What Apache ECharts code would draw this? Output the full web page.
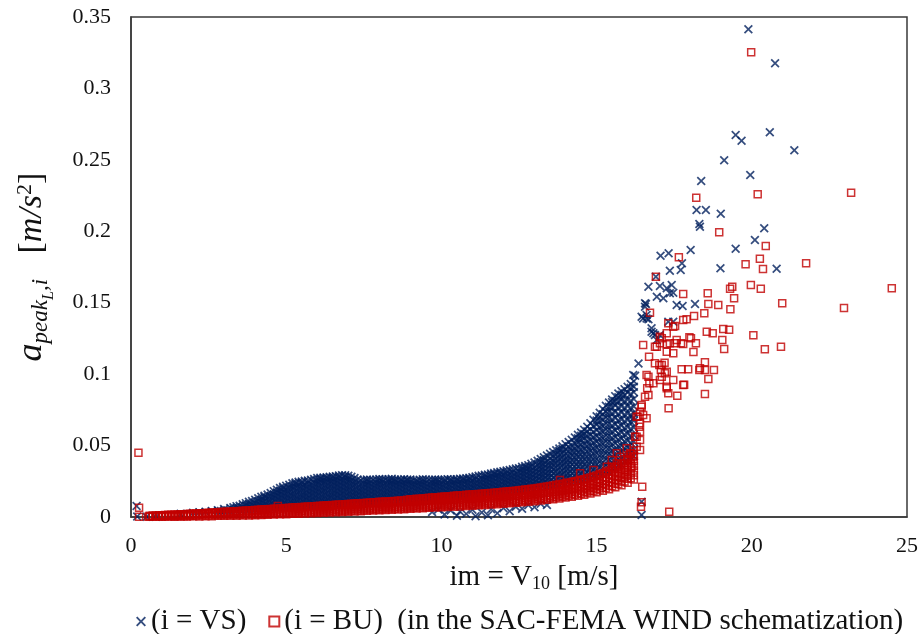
<!DOCTYPE html>
<html><head><meta charset="utf-8">
<script src="https://cdn.jsdelivr.net/npm/echarts@6/dist/echarts.min.js"></script>
<style>html,body{margin:0;padding:0;background:#fff}#c{width:919px;height:634px}</style>
</head><body><div id="c"></div>
<script>
// ---- data ----
const seriesNames = ['(i = VS)', '(i = BU)  (in the SAC-FEMA WIND schematization)'];
const xRange = [0, 25];
const yRange = [0, 0.35];
const xStep = 5;
const yStep = 0.05;

// dense VS cloud: each row = [x, y1, y2, ...]
const vsBandCols = [
[1.6,0.0022],[2.0,0.0029],[2.2,0.0033],[2.4,0.0037],[2.6,0.0042],
[2.8,0.0034,0.0048],[3.0,0.0037,0.0056],[3.2,0.0039,0.0063],
[3.4,0.0042,0.0061,0.0076],[3.6,0.0044,0.0067,0.0089],
[3.8,0.0046,0.0071,0.0091,0.0106],[4.0,0.0048,0.0073,0.0097,0.0121],
[4.2,0.0051,0.0075,0.0101,0.0123,0.0141],[4.4,0.0053,0.0079,0.0103,0.0131,0.0158],
[4.6,0.0056,0.0081,0.0108,0.0135,0.0157,0.0181],
[4.8,0.0058,0.0085,0.0111,0.0136,0.0163,0.0184,0.0203],
[5.0,0.0061,0.0086,0.0113,0.0139,0.0164,0.0191,0.0218],
[5.2,0.0064,0.0091,0.0116,0.0143,0.0167,0.0195,0.0215,0.0236],
[5.4,0.0066,0.0092,0.0119,0.0144,0.0171,0.0197,0.0223,0.0246],
[5.6,0.0069,0.0095,0.0121,0.0147,0.0172,0.0199,0.0225,0.0253],
[5.8,0.0071,0.0098,0.0123,0.015,0.0176,0.0201,0.0228,0.0261],
[6.0,0.0074,0.0101,0.0126,0.0153,0.0178,0.0205,0.023,0.0253,0.0273],
[6.2,0.0077,0.0103,0.013,0.0155,0.0182,0.0207,0.0234,0.0257,0.0276],
[6.4,0.008,0.0106,0.0133,0.0158,0.0185,0.0211,0.0236,0.0261,0.0281],
[6.6,0.0083,0.0109,0.0134,0.0161,0.0186,0.0213,0.0238,0.0264,0.0286],
[6.8,0.0086,0.0112,0.0137,0.0164,0.0189,0.0215,0.0242,0.0267,0.0293],
[7.0,0.0089,0.0114,0.0141,0.0166,0.0193,0.0218,0.0245,0.0268,0.0289],
[7.2,0.0092,0.0118,0.0143,0.017,0.0195,0.0222,0.0247,0.0273],
[7.4,0.0095,0.0121,0.0147,0.0173,0.0198,0.0225,0.0256],
[7.6,0.0098,0.0123,0.0149,0.0175,0.0201,0.0227,0.0249,0.0263],
[7.8,0.0101,0.0126,0.0152,0.0178,0.0204,0.023,0.0259],
[8.0,0.0104,0.0129,0.0155,0.0181,0.0206,0.0233,0.0251,0.0266],
[8.2,0.0106,0.0132,0.0157,0.0183,0.0209,0.0235,0.0262],
[8.4,0.0109,0.0134,0.016,0.0186,0.0211,0.0237,0.0254,0.0267],
[8.6,0.0111,0.0137,0.0162,0.0188,0.0214,0.0239,0.026],
[8.8,0.0114,0.0139,0.0165,0.0191,0.0217,0.0241,0.0264],
[9.0,0.0119,0.0145,0.017,0.0195,0.0221,0.0243,0.0262],
[9.2,0.0123,0.0147,0.0173,0.0198,0.0222,0.0245,0.0258],
[9.4,0.0126,0.0151,0.0176,0.0201,0.0226,0.0247,0.0264],
[9.6,0.0129,0.0154,0.0179,0.0204,0.0229,0.0259],
[9.8,0.0133,0.0157,0.0182,0.0208,0.0232,0.0249,0.0262],
[10.0,0.0136,0.0161,0.0186,0.021,0.0235,0.026],
[10.2,0.014,0.0164,0.0189,0.0214,0.0239,0.0265],
[10.4,0.0143,0.0168,0.0193,0.0218,0.0242,0.0262],
[10.6,0.0147,0.0171,0.0196,0.0221,0.0246,0.0267],
[10.8,0.015,0.0175,0.02,0.0225,0.025,0.0271],
[11.0,0.0153,0.0178,0.0203,0.0228,0.0254,0.0279],
[11.2,0.0157,0.0181,0.0206,0.0231,0.0257,0.0288],
[11.4,0.016,0.0185,0.021,0.0235,0.026,0.0281,0.0295],
[11.6,0.0164,0.0188,0.0213,0.0238,0.0263,0.0287,0.0304],
[11.8,0.0168,0.0192,0.0217,0.0242,0.0267,0.0292,0.0313],
[12.0,0.0172,0.0196,0.0221,0.0246,0.0271,0.0296,0.0321],
[12.2,0.0176,0.02,0.0225,0.025,0.0275,0.03,0.0329],
[12.4,0.018,0.0204,0.0229,0.0254,0.0279,0.0305,0.0339],
[12.6,0.0185,0.0209,0.0234,0.0259,0.0284,0.031,0.0334,0.0351],
[12.8,0.019,0.0214,0.0239,0.0264,0.0289,0.0315,0.0339,0.0363],
[13.0,0.0196,0.022,0.0245,0.027,0.0296,0.0321,0.0346,0.0382],
[13.2,0.0202,0.0228,0.0253,0.028,0.0305,0.0332,0.0357,0.0384,0.0406],
[13.4,0.0209,0.0235,0.026,0.0287,0.0312,0.0339,0.0365,0.0391,0.0431],
[13.6,0.0216,0.0246,0.0274,0.0306,0.0334,0.0366,0.0394,0.0426,0.0455],
[13.8,0.0224,0.0253,0.0284,0.0312,0.0344,0.0372,0.0404,0.0432,0.0463,0.048],
[14.0,0.0232,0.0262,0.029,0.0322,0.035,0.0382,0.041,0.0442,0.0474,0.051],
[14.2,0.0241,0.0271,0.0305,0.0335,0.0369,0.0399,0.0433,0.0463,0.0497,0.054],
[14.4,0.0251,0.0285,0.0317,0.0353,0.0385,0.0421,0.0453,0.0489,0.0521,0.0551,0.0575],
[14.6,0.0261,0.0295,0.0333,0.0367,0.0405,0.0439,0.0477,0.0511,0.0549,0.0581,0.061],
[14.8,0.0273,0.0311,0.0347,0.0387,0.0423,0.0463,0.0499,0.0539,0.0575,0.0615,0.0656],
[15.0,0.0287,0.0325,0.0367,0.0405,0.0447,0.0485,0.0527,0.0565,0.0607,0.0645,0.0676,0.0705],
[15.2,0.0301,0.0343,0.0383,0.0427,0.0467,0.0511,0.0551,0.0595,0.0635,0.0679,0.0719,0.0756],
[15.4,0.0319,0.0361,0.0401,0.0445,0.0485,0.0529,0.0569,0.0613,0.0653,0.0697,0.0737,0.0771,0.0801],
[15.6,0.0341,0.0383,0.0429,0.0471,0.0517,0.0559,0.0605,0.0647,0.0693,0.0735,0.0781,0.0812,0.0846],
[15.8,0.0363,0.0407,0.0455,0.0499,0.0547,0.0591,0.0639,0.0683,0.0731,0.0775,0.0823,0.0856,0.0881],
[16.0,0.0391,0.0437,0.0487,0.0533,0.0583,0.0629,0.0679,0.0725,0.0775,0.0821,0.0871,0.0911],
[16.2,0.0426,0.0474,0.0526,0.0574,0.0626,0.0674,0.0726,0.0774,0.0826,0.0874,0.0912,0.0951]
];
// more VS cloud points between the columns above
const vsBandCols2 = [
[2.9,0.0042],[3.1,0.0047],[3.3,0.0052,0.0068],[3.5,0.0055,0.0079],[3.7,0.0057,0.0081,0.0097],
[3.9,0.006,0.0084,0.0112],[4.1,0.0062,0.0086,0.0111,0.0131],[4.3,0.0064,0.009,0.0114,0.0139,0.0149],
[4.5,0.0067,0.0093,0.0119,0.0145,0.0168],[4.7,0.007,0.0096,0.0122,0.0148,0.0172,0.0191],
[4.9,0.0073,0.0098,0.0125,0.0151,0.0177,0.0201,0.0211],
[5.1,0.0075,0.0101,0.0128,0.0153,0.0179,0.0205,0.0226],
[5.3,0.0078,0.0104,0.013,0.0156,0.0183,0.0208,0.0232,0.0241],
[5.5,0.008,0.0106,0.0133,0.0158,0.0185,0.021,0.0236,0.0249],
[5.7,0.0083,0.0109,0.0135,0.0161,0.0188,0.0213,0.0239,0.0256],
[5.9,0.0086,0.0112,0.0138,0.0164,0.019,0.0216,0.0242,0.0266],
[6.1,0.0089,0.0115,0.0141,0.0167,0.0193,0.0219,0.0245,0.0264,0.0274],
[6.3,0.0091,0.0117,0.0144,0.0169,0.0196,0.0221,0.0247,0.0268,0.0278],
[6.5,0.0094,0.012,0.0146,0.0172,0.0198,0.0224,0.025,0.0271,0.0283],
[6.7,0.0097,0.0123,0.0148,0.0175,0.0201,0.0226,0.0252,0.0276,0.029],
[6.9,0.01,0.0126,0.0151,0.0178,0.0204,0.0229,0.0255,0.0279,0.0292],
[7.1,0.0103,0.0129,0.0154,0.018,0.0206,0.0232,0.0257,0.0281],
[7.3,0.0106,0.0132,0.0158,0.0184,0.0209,0.0236,0.0262],
[7.5,0.0109,0.0135,0.016,0.0186,0.0212,0.0238,0.0259],
[7.7,0.0111,0.0137,0.0163,0.0189,0.0215,0.0239,0.0261],
[7.9,0.0114,0.014,0.0166,0.0192,0.0218,0.0242,0.0263],
[8.1,0.0117,0.0143,0.0169,0.0195,0.0221,0.0247,0.0264],
[8.3,0.012,0.0145,0.0171,0.0197,0.0223,0.0249,0.0265],
[8.5,0.0122,0.0148,0.0174,0.0199,0.0225,0.0248,0.0263],
[8.7,0.0125,0.015,0.0176,0.0201,0.0227,0.0251,0.0262],
[8.9,0.0128,0.0154,0.0179,0.0205,0.0231,0.0254,0.0263],
[9.1,0.0132,0.0158,0.0183,0.0209,0.0233,0.0255],
[9.3,0.0135,0.016,0.0186,0.0211,0.0236,0.0261],
[9.5,0.0138,0.0163,0.0189,0.0214,0.0239,0.0262],
[9.7,0.0141,0.0166,0.0192,0.0217,0.0241,0.026],
[9.9,0.0144,0.017,0.0195,0.022,0.0244,0.0261],
[10.1,0.0148,0.0173,0.0198,0.0223,0.0248,0.0263],
[10.3,0.0151,0.0176,0.0201,0.0226,0.025,0.0264],
[10.5,0.0155,0.018,0.0205,0.023,0.0254,0.0265],
[10.7,0.0158,0.0183,0.0208,0.0233,0.0257,0.0269],
[10.9,0.0162,0.0187,0.0212,0.0237,0.0262,0.0275],
[11.1,0.0165,0.019,0.0215,0.024,0.0266,0.0284],
[11.3,0.0169,0.0194,0.0219,0.0244,0.027,0.0291],
[11.5,0.0172,0.0197,0.0222,0.0247,0.0273,0.0298],
[11.7,0.0176,0.0201,0.0226,0.0251,0.0276,0.03,0.0308],
[11.9,0.018,0.0205,0.023,0.0255,0.028,0.0305,0.0317],
[12.1,0.0184,0.0209,0.0234,0.0259,0.0284,0.0309,0.0325],
[12.3,0.0188,0.0213,0.0238,0.0263,0.0288,0.0313,0.0334],
[12.5,0.0192,0.0217,0.0242,0.0267,0.0292,0.0318,0.0342],
[12.7,0.0197,0.0222,0.0247,0.0272,0.0297,0.0322,0.0346,0.0357],
[12.9,0.0203,0.0228,0.0253,0.0278,0.0303,0.0328,0.0353,0.0372],
[13.1,0.0209,0.0235,0.0261,0.0287,0.0313,0.0339,0.0365,0.0394],
[13.3,0.0215,0.0241,0.0267,0.0293,0.0319,0.0345,0.0371,0.0397,0.0418],
[13.5,0.0222,0.025,0.0276,0.0304,0.033,0.0358,0.0384,0.0412,0.0443],
[13.7,0.023,0.026,0.029,0.032,0.035,0.038,0.041,0.044,0.0467],
[13.9,0.0238,0.0268,0.0299,0.0328,0.036,0.0388,0.0419,0.0448,0.0478,0.0495],
[14.1,0.0246,0.0277,0.0306,0.0337,0.0367,0.0397,0.0427,0.0458,0.0491,0.0525],
[14.3,0.0256,0.0288,0.0321,0.0352,0.0386,0.0418,0.0451,0.0482,0.0515,0.0557],
[14.5,0.0266,0.0302,0.0335,0.037,0.0404,0.0439,0.0473,0.0507,0.054,0.0569,0.0592],
[14.7,0.0278,0.0314,0.0351,0.0387,0.0424,0.046,0.0497,0.0533,0.0568,0.06,0.0632],
[14.9,0.0291,0.033,0.0368,0.0406,0.0445,0.0483,0.0521,0.056,0.0597,0.0636,0.068],
[15.1,0.0305,0.0346,0.0386,0.0428,0.0468,0.051,0.055,0.0592,0.0632,0.0671,0.0702,0.073],
[15.3,0.0321,0.0363,0.0405,0.0447,0.0489,0.0531,0.0573,0.0615,0.0657,0.0699,0.0739,0.0778],
[15.5,0.034,0.0383,0.0426,0.0469,0.0512,0.0555,0.0598,0.0641,0.0684,0.0726,0.0766,0.0804,0.0823],
[15.7,0.0362,0.0407,0.0452,0.0497,0.0542,0.0587,0.0632,0.0677,0.0722,0.0767,0.0808,0.0838,0.0864],
[15.9,0.0389,0.0436,0.0483,0.053,0.0577,0.0624,0.0671,0.0718,0.0765,0.0812,0.0856,0.0895],
[16.1,0.0422,0.0471,0.052,0.0569,0.0618,0.0667,0.0716,0.0765,0.0814,0.0861,0.0905,0.0931]
];

// VS points lying below the BU band
const vsLowPts = [
[0.18,0.0077],[0.2,0.0004],[0.5,0.0002],[0.8,0.0001],
[9.7,0.0035],[9.9,0.0052],[10.1,0.0018],[10.3,0.0046],[10.5,0.0009],[10.6,0.0038],
[10.8,0.0022],[11.0,0.0051],[11.1,0.0006],[11.3,0.0031],[11.5,0.0012],[11.6,0.0055],
[11.8,0.0027],[12.0,0.0062],[12.2,0.0041],[12.4,0.0072],[12.6,0.0058],[12.8,0.0083],
[13.0,0.0069],[13.2,0.0092],[13.4,0.0084],[16.45,0.0107],[16.45,0.0014]
];

// scattered VS points above the cloud
const vsSparse = [
[16.18,0.0691],[16.24,0.0989],[16.18,0.0994],[16.35,0.1075],[16.45,0.1402],[16.5,0.139],
[16.61,0.139],[16.56,0.1472],[16.56,0.1496],[16.59,0.1491],[16.61,0.1414],[16.67,0.1384],
[16.77,0.1321],[16.83,0.1286],[16.77,0.1297],[16.88,0.1274],[17.04,0.1274],[16.94,0.1239],
[17.31,0.1367],[17.47,0.1367],[16.94,0.1542],[17.15,0.1531],[17.58,0.1484],[17.77,0.1477],
[18.17,0.1491],[16.67,0.1612],[17.04,0.1617],[17.42,0.1624],[17.47,0.157],[17.26,0.1601],
[17.36,0.1566],[16.91,0.1682],[17.06,0.1829],[17.32,0.1846],[17.75,0.1776],[17.71,0.1729],
[17.36,0.1724],[18.03,0.1869],[18.99,0.1741],[20.8,0.1738],[19.48,0.1878],[20.1,0.1939],
[20.4,0.2021],[18.31,0.2051],[18.33,0.2032],[19.0,0.2123],[18.22,0.2149],[18.52,0.2149],
[18.37,0.2352],[19.95,0.2394],[19.11,0.2497],[21.37,0.2567],[19.48,0.2674],[19.67,0.2634],
[20.58,0.2693],[20.75,0.3176],[19.89,0.3414]
];

// dense BU band: each row = [x, y1, y2, ...]
const buBandCols = [
[0.6,0.0003,0.0008],[0.8,0.0002,0.0011],[1.0,0.0002,0.0007,0.0013],[1.2,0.0003,0.0009,0.0015],
[1.4,0.0002,0.001,0.0017],[1.6,0.0004,0.0011,0.0019],[1.8,0.0003,0.0012,0.0021],
[2.0,0.0005,0.0014,0.0024],[2.2,0.0004,0.0015,0.0026],[2.4,0.0006,0.0017,0.0028],
[2.6,0.0006,0.0018,0.0031],[2.8,0.0008,0.0019,0.0033],[3.0,0.0008,0.0021,0.0036],
[3.2,0.0009,0.0022,0.0032,0.0039],[3.4,0.0009,0.0022,0.0034,0.0041],[3.6,0.0011,0.0024,0.0035,0.0044],
[3.8,0.0011,0.0024,0.0037,0.0046],[4.0,0.0013,0.0026,0.0038,0.0049],[4.2,0.0014,0.0026,0.004,0.0052],
[4.4,0.0016,0.0028,0.0041,0.0055],[4.6,0.0017,0.003,0.0043,0.0057],[4.8,0.0019,0.0031,0.0046,0.006],
[5.0,0.002,0.0033,0.0047,0.0063],[5.2,0.0022,0.0034,0.0049,0.0066],
[5.4,0.0023,0.0036,0.005,0.0058,0.0069],[5.6,0.0025,0.0038,0.0052,0.0064,0.0071],
[5.8,0.0027,0.0039,0.0053,0.0066,0.0074],[6.0,0.0028,0.0041,0.0055,0.0068,0.0077],
[6.2,0.003,0.0044,0.0057,0.007,0.008],[6.4,0.0032,0.0044,0.0058,0.0072,0.0083],
[6.6,0.0033,0.0047,0.006,0.0073,0.0085],[6.8,0.0035,0.0048,0.0063,0.0076,0.0088],
[7.0,0.0037,0.005,0.0064,0.0078,0.0091],[7.2,0.0039,0.0053,0.0066,0.008,0.0094],
[7.4,0.0041,0.0054,0.0068,0.0083,0.0097],[7.6,0.0043,0.0057,0.007,0.0084,0.0099],
[7.8,0.0045,0.0058,0.0073,0.0087,0.0102],[8.0,0.0047,0.006,0.0074,0.009,0.0106],
[8.2,0.0049,0.0063,0.0076,0.0091,0.0108],[8.4,0.0051,0.0064,0.0079,0.0093,0.011],
[8.6,0.0053,0.0066,0.008,0.0096,0.0113],[8.8,0.0055,0.0069,0.0083,0.0099,0.0116],
[9.0,0.0058,0.0071,0.0086,0.0102,0.0114,0.0124],[9.2,0.006,0.0073,0.0088,0.0104,0.0117,0.0127],
[9.4,0.0062,0.0076,0.009,0.0106,0.0119,0.013],[9.6,0.0064,0.0077,0.0093,0.0108,0.0122,0.0134],
[9.8,0.0066,0.008,0.0094,0.011,0.0125,0.0137],[10.0,0.0068,0.0082,0.0097,0.0113,0.0128,0.0141],
[10.2,0.007,0.0084,0.0099,0.0115,0.013,0.0144],[10.4,0.0072,0.0087,0.0101,0.0117,0.0133,0.0148],
[10.6,0.0074,0.0088,0.0104,0.0119,0.0136,0.0151],[10.8,0.0077,0.0091,0.0106,0.0122,0.0139,0.0155],
[11.0,0.0079,0.0093,0.0109,0.0124,0.0141,0.0158],[11.2,0.0082,0.0096,0.0111,0.0127,0.0144,0.0161],
[11.4,0.0084,0.0099,0.0113,0.013,0.0147,0.0165],[11.6,0.0087,0.0101,0.0116,0.0133,0.015,0.0168],
[11.8,0.009,0.0104,0.012,0.0136,0.0153,0.0172],[12.0,0.0093,0.0107,0.0122,0.0139,0.0157,0.0176],
[12.2,0.0096,0.011,0.0126,0.0143,0.0161,0.018],[12.4,0.0099,0.0114,0.013,0.0147,0.0165,0.0184],
[12.6,0.0103,0.0118,0.0134,0.0151,0.0169,0.0189],[12.8,0.0107,0.0122,0.0138,0.0156,0.0174,0.0194],
[13.0,0.0111,0.0126,0.0143,0.0161,0.018,0.02],[13.2,0.0116,0.0131,0.0148,0.0166,0.0186,0.0206],
[13.4,0.012,0.0136,0.0153,0.0172,0.0192,0.0213],[13.6,0.0125,0.0142,0.0159,0.0178,0.0198,0.022],
[13.8,0.013,0.0147,0.0165,0.0185,0.0205,0.0228],[14.0,0.0136,0.0153,0.0172,0.0192,0.0213,0.0236],
[14.2,0.0142,0.016,0.0179,0.02,0.0222,0.0245],[14.4,0.0149,0.0167,0.0187,0.0208,0.0231,0.0254],
[14.6,0.0156,0.0175,0.0196,0.0218,0.0241,0.0264],[14.8,0.0164,0.0184,0.0205,0.0228,0.0252,0.0276],
[15.0,0.0173,0.0194,0.0216,0.024,0.0265,0.029],[15.2,0.0183,0.0205,0.0228,0.0253,0.0279,0.0306],
[15.4,0.0195,0.0218,0.0242,0.0268,0.0296,0.0324],[15.6,0.0208,0.0232,0.0258,0.0285,0.0314,0.0345],
[15.8,0.0222,0.0248,0.0276,0.0305,0.0336,0.0368],
[16.0,0.024,0.0268,0.0298,0.033,0.0362,0.0395,0.0418],
[16.2,0.0262,0.0292,0.0325,0.0358,0.0392,0.0428,0.0465]
];
// more BU band points between the columns above
const buBandCols2 = [
[0.7,0.0004,0.001],[0.9,0.0003,0.0009,0.0012],[1.1,0.0004,0.001,0.0014],[1.3,0.0005,0.0012,0.0016],
[1.5,0.0005,0.0013,0.0018],[1.7,0.0006,0.0015,0.002],[1.9,0.0007,0.0016,0.0023],
[2.1,0.0008,0.0019,0.0025],[2.3,0.001,0.0021,0.0027],[2.5,0.0011,0.0023,0.003],
[2.7,0.0012,0.0025,0.0032],[2.9,0.0013,0.0027,0.0035],[3.1,0.0014,0.0027,0.0037],
[3.3,0.0015,0.0028,0.004],[3.5,0.0016,0.0029,0.0042],[3.7,0.0017,0.003,0.0045],
[3.9,0.0018,0.0031,0.0043,0.0048],[4.1,0.0019,0.0032,0.0045,0.0051],[4.3,0.002,0.0034,0.0047,0.0054],
[4.5,0.0022,0.0036,0.0049,0.0056],[4.7,0.0023,0.0037,0.0051,0.0059],[4.9,0.0025,0.0039,0.0054,0.0062],
[5.1,0.0026,0.004,0.0056,0.0065],[5.3,0.0028,0.0042,0.0058,0.0068],[5.5,0.003,0.0044,0.0059,0.007],
[5.7,0.0031,0.0046,0.006,0.0073],[5.9,0.0033,0.0047,0.0061,0.0076],
[6.1,0.0035,0.0049,0.0063,0.0075,0.0079],[6.3,0.0037,0.0051,0.0064,0.0077,0.0082],
[6.5,0.0039,0.0052,0.0066,0.0079,0.0084],[6.7,0.004,0.0054,0.0068,0.0082,0.0087],
[6.9,0.0042,0.0056,0.0071,0.0084,0.009],[7.1,0.0044,0.0058,0.0072,0.0086,0.0093],
[7.3,0.0046,0.006,0.0074,0.0089,0.0096],[7.5,0.0048,0.0062,0.0076,0.0091,0.0098],
[7.7,0.005,0.0064,0.0079,0.0094,0.0101],[7.9,0.0052,0.0066,0.0081,0.0097,0.0104],
[8.1,0.0054,0.0068,0.0083,0.0099,0.0107],[8.3,0.0056,0.007,0.0085,0.0101,0.0109],
[8.5,0.0058,0.0072,0.0087,0.0104,0.0112],[8.7,0.006,0.0074,0.009,0.0107,0.0115],
[8.9,0.0062,0.0077,0.0093,0.0109,0.012],[9.1,0.0065,0.0079,0.0095,0.0111,0.0125],
[9.3,0.0067,0.0082,0.0097,0.0113,0.0128],[9.5,0.0069,0.0084,0.01,0.0115,0.0132],
[9.7,0.0071,0.0086,0.0101,0.0117,0.0129,0.0136],[9.9,0.0073,0.0088,0.0104,0.012,0.0133,0.0139],
[10.1,0.0075,0.009,0.0106,0.0122,0.0136,0.0143],[10.3,0.0078,0.0093,0.0109,0.0125,0.0139,0.0146],
[10.5,0.008,0.0096,0.0111,0.0128,0.0142,0.015],[10.7,0.0082,0.0098,0.0114,0.013,0.0145,0.0153],
[10.9,0.0085,0.01,0.0116,0.0132,0.0148,0.0157],[11.1,0.0087,0.0103,0.0118,0.0135,0.0151,0.016],
[11.3,0.009,0.0105,0.0121,0.0138,0.0154,0.0163],[11.5,0.0093,0.0108,0.0124,0.0141,0.0157,0.0167],
[11.7,0.0096,0.0111,0.0127,0.0144,0.016,0.017],[11.9,0.0099,0.0114,0.013,0.0147,0.0165,0.0174],
[12.1,0.0102,0.0117,0.0133,0.015,0.0168,0.0178],[12.3,0.0105,0.0121,0.0137,0.0155,0.0173,0.0182],
[12.5,0.0109,0.0125,0.0142,0.0159,0.0177,0.0187],[12.7,0.0113,0.0129,0.0146,0.0164,0.0183,0.0192],
[12.9,0.0117,0.0134,0.0151,0.0169,0.0188,0.0197],[13.1,0.0122,0.0139,0.0156,0.0175,0.0194,0.0203],
[13.3,0.0126,0.0144,0.0162,0.0181,0.02,0.021],[13.5,0.0131,0.0149,0.0168,0.0187,0.0207,0.0217],
[13.7,0.0137,0.0155,0.0174,0.0194,0.0214,0.0225],[13.9,0.0142,0.0161,0.0181,0.0201,0.0222,0.0232],
[14.1,0.0148,0.0168,0.0188,0.0209,0.023,0.0241],[14.3,0.0156,0.0176,0.0197,0.0218,0.0241,0.025],
[14.5,0.0163,0.0184,0.0206,0.0228,0.0251,0.026],[14.7,0.0171,0.0193,0.0216,0.024,0.0262,0.0271],
[14.9,0.0181,0.0203,0.0227,0.0251,0.0276,0.0284],[15.1,0.0192,0.0215,0.0239,0.0265,0.0291,0.0299],
[15.3,0.0203,0.0227,0.0253,0.0279,0.0307,0.0316],[15.5,0.0216,0.0242,0.0269,0.0297,0.0326,0.0336],
[15.7,0.0231,0.0258,0.0287,0.0317,0.0348,0.0358],[15.9,0.0249,0.0279,0.0311,0.0344,0.0378,0.0405],
[16.1,0.0272,0.0305,0.0339,0.0374,0.0408,0.0442]
];

// scattered BU points
const buSparse = [
[0.24,0.045],[0.26,0.0065],[0.26,0.0002],[0.56,0.0002],[4.73,0.0077],
[13.82,0.0259],[14.47,0.0306],[14.9,0.0329],[15.33,0.0352],
[15.49,0.0352],[15.49,0.0399],[15.65,0.0376],[15.65,0.0446],[15.75,0.0422],[15.92,0.0329],
[15.97,0.0481],[16.02,0.0399],[16.08,0.0446],[16.13,0.0352],[16.18,0.0422],
[16.29,0.0492],[16.4,0.0469],[16.4,0.0539],[16.29,0.0562],[16.24,0.0562],[16.38,0.0632],
[16.4,0.0597],[16.4,0.0656],[16.34,0.0702],[16.29,0.0702],[16.61,0.0691],[16.5,0.0714],
[16.4,0.0737],[16.45,0.0772],[16.45,0.0784],[16.56,0.0842],[16.67,0.0854],
[16.63,0.0901],[16.7,0.0936],[16.83,0.0936],[16.67,0.0982],[16.61,0.0994],[17.04,0.0959],
[17.1,0.0982],[17.26,0.0912],[17.26,0.0901],[17.31,0.0866],[17.47,0.0959],[17.79,0.0924],
[17.82,0.0926],[17.6,0.0849],[17.32,0.0761],[18.49,0.0861],[18.6,0.0966],
[16.47,0.0212],[16.45,0.0103],[16.43,0.0072],[17.34,0.0037],
[17.02,0.1064],[17.1,0.1064],[16.88,0.1076],[17.19,0.108],[17.07,0.1029],[17.2,0.1006],
[17.26,0.1017],[17.74,0.1034],[17.95,0.1034],[18.31,0.1029],[18.49,0.1029],[18.78,0.1029],
[18.49,0.1083],[18.33,0.1041],
[16.69,0.1122],[16.5,0.1204],[16.88,0.1192],[16.94,0.1192],[17.04,0.1216],[17.26,0.1209],
[17.26,0.1157],[17.47,0.1146],[17.53,0.1216],[17.72,0.1216],[17.58,0.1239],[17.1,0.1251],
[17.36,0.1216],[17.04,0.1262],[17.26,0.1286],[17.47,0.1332],[17.31,0.1356],[17.53,0.1337],
[17.99,0.1258],[18.04,0.1251],[17.79,0.1211],[18.2,0.1216],[18.12,0.1155],[18.55,0.1297],
[18.74,0.1286],[19.08,0.1316],[19.27,0.1311],[19.05,0.1239],[19.11,0.1176],[20.05,0.1272],
[20.42,0.1174],[20.94,0.1192],
[16.72,0.143],[17.79,0.1379],[17.9,0.1384],[18.14,0.1407],[18.47,0.1426],[19.31,0.1454],
[18.6,0.1491],[18.92,0.1484],[19.43,0.1531],[20.98,0.1496],[22.97,0.1463],[17.79,0.1561],
[18.58,0.1566],[19.3,0.1598],[19.37,0.1612],[19.97,0.1624],[20.29,0.1598],[24.51,0.1601],
[16.91,0.1682],[19.8,0.1769],[20.36,0.1736],[17.65,0.1818],[20.26,0.1808],[21.75,0.1776],
[20.45,0.1897],[18.95,0.1993],[18.21,0.2235],[20.19,0.2259],[23.2,0.227],[19.98,0.3253]
];

// ---- build ----
function colsToPoints(cols) {
  const out = [];
  cols.forEach(c => { for (let i = 1; i < c.length; i++) out.push([c[0], c[i]]); });
  return out;
}
const vsData = colsToPoints(vsBandCols).concat(colsToPoints(vsBandCols2), vsLowPts, vsSparse);
const buData = colsToPoints(buBandCols).concat(colsToPoints(buBandCols2), buSparse);

const NAVY = '#02205e';
const RED = '#c00000';
const FONT = 'Liberation Serif';
const CROSS = 'path://M0,1.35L1.35,0L5,3.65L8.65,0L10,1.35L6.35,5L10,8.65L8.65,10L5,6.35L1.35,10L0,8.65L3.65,5Z';

const chart = echarts.init(document.getElementById('c'), null, {renderer: 'canvas'});
chart.setOption({
  animation: false,
  backgroundColor: '#fff',
  grid: {left: 131, right: 12, top: 17, bottom: 117, containLabel: false, outerBoundsMode: 'none',
         show: true, borderColor: '#3a3a3a', borderWidth: 1.5},
  xAxis: {
    type: 'value', min: xRange[0], max: xRange[1], interval: xStep,
    axisLine: {show: true, lineStyle: {color: '#3a3a3a', width: 1.5}},
    axisTick: {show: false}, splitLine: {show: false},
    axisLabel: {fontFamily: FONT, fontSize: 22, color: '#111', margin: 18},
    name: '{t|im = V}{s|10}{t| [m/s]}', nameLocation: 'middle', nameGap: 44,
    nameTextStyle: {padding: [0, 0, 0, 30], rich: {
      t: {fontFamily: FONT, fontSize: 29, color: '#111', lineHeight: 32},
      s: {fontFamily: FONT, fontSize: 18, color: '#111', verticalAlign: 'bottom', lineHeight: 16}
    }}
  },
  yAxis: {
    type: 'value', min: yRange[0], max: yRange[1], interval: yStep,
    axisLine: {show: true, lineStyle: {color: '#3a3a3a', width: 1.5}},
    axisTick: {show: false}, splitLine: {show: false},
    axisLabel: {fontFamily: FONT, fontSize: 22, color: '#111', margin: 20},
    name: '{a|a}{p|peak}{l|L}{p|,i}{b|   [}{u|m/s}{e|2}{b|]}',
    nameLocation: 'middle', nameRotate: 90, nameGap: 74,
    nameTextStyle: {rich: {
      a: {fontFamily: FONT, fontSize: 36, fontStyle: 'italic', color: '#111', lineHeight: 50},
      p: {fontFamily: FONT, fontSize: 23, fontStyle: 'italic', color: '#111', verticalAlign: 'bottom', lineHeight: 23, padding: [0, 0, 5, 0]},
      l: {fontFamily: FONT, fontSize: 16, fontStyle: 'italic', color: '#111', verticalAlign: 'bottom', lineHeight: 16},
      b: {fontFamily: FONT, fontSize: 34, color: '#111', lineHeight: 50},
      u: {fontFamily: FONT, fontSize: 34, fontStyle: 'italic', color: '#111', lineHeight: 50},
      e: {fontFamily: FONT, fontSize: 22, color: '#111', verticalAlign: 'top', lineHeight: 22, padding: [7, 0, 0, 0]}
    }}
  },
  legend: {
    left: 131, top: 602, itemWidth: 10, itemHeight: 10, itemGap: 22,
    textStyle: {fontFamily: FONT, fontSize: 29, color: '#111'},
    data: [seriesNames[0], seriesNames[1]]
  },
  series: [
    {type: 'scatter', name: seriesNames[0], symbol: CROSS, symbolSize: 9,
     itemStyle: {color: NAVY}, data: vsData, emphasis: {disabled: true}},
    {type: 'scatter', name: seriesNames[1], symbol: 'rect', symbolSize: 7,
     itemStyle: {color: 'rgba(255,255,255,0)', borderColor: RED, borderWidth: 1.5},
     data: buData, emphasis: {disabled: true}}
  ]
});
</script></body></html>
